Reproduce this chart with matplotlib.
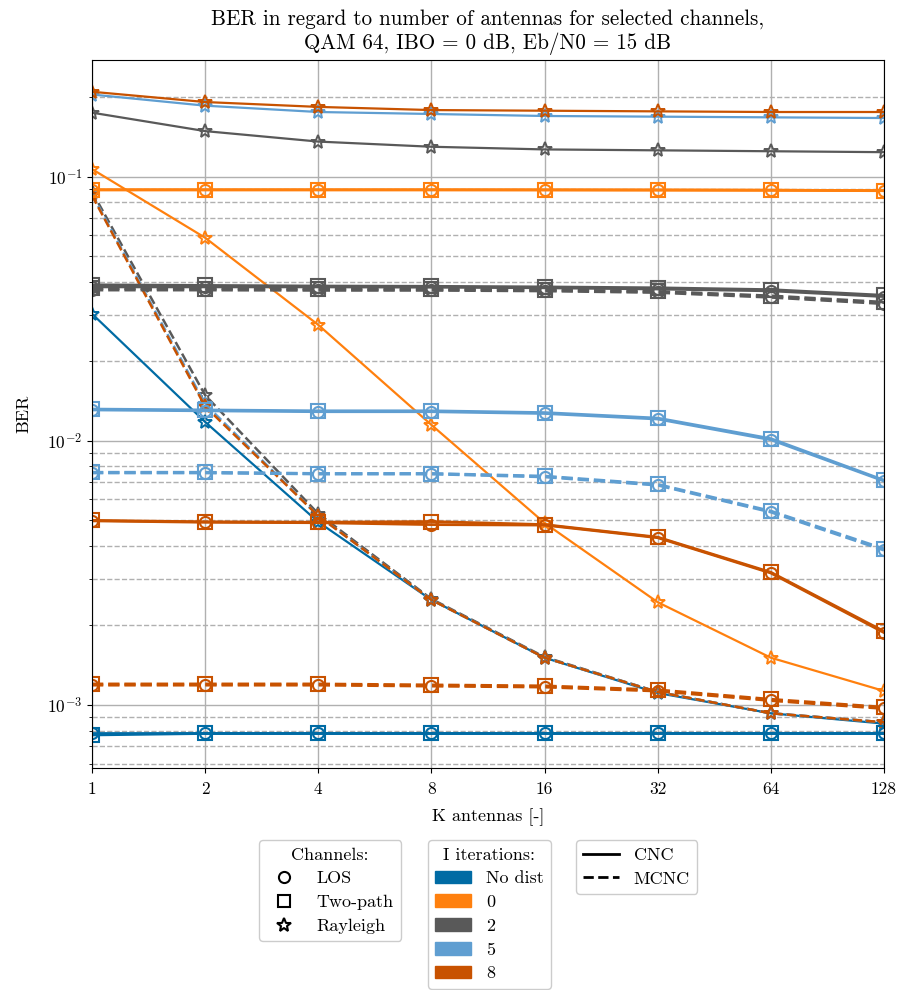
import numpy as np
import matplotlib.pyplot as plt
from matplotlib.lines import Line2D
from matplotlib.patches import Patch

plt.rcParams['font.family'] = ['cmr10', 'DejaVu Serif']
plt.rcParams['mathtext.fontset'] = 'cm'
plt.rcParams['axes.formatter.use_mathtext'] = True
plt.rcParams['axes.unicode_minus'] = False

# K antennas
K = [1, 2, 4, 8, 16, 32, 64, 128]

iter_labels = ['No dist', '0', '2', '5', '8']
colors = ['#006BA4', '#FF800E', '#595959', '#5F9ED1', '#C85200']

# BER, CNC (solid)
los_cnc = {
    'No dist': [0.00078, 0.00078, 0.00078, 0.00078, 0.00078, 0.00078, 0.00078, 0.00078],
    '0': [0.0893, 0.0893, 0.0893, 0.0893, 0.0892, 0.0891, 0.0890, 0.0886],
    '2': [0.0383, 0.0383, 0.0383, 0.0382, 0.0380, 0.0376, 0.0370, 0.0352],
    '5': [0.0131, 0.0130, 0.0129, 0.0129, 0.0127, 0.0121, 0.0101, 0.00705],
    '8': [0.00498, 0.00492, 0.00490, 0.00482, 0.00480, 0.00430, 0.00316, 0.00188],
}
twopath_cnc = {
    'No dist': [0.00077, 0.00078, 0.00078, 0.00078, 0.00078, 0.00078, 0.00078, 0.00078],
    '0': [0.0893, 0.0893, 0.0893, 0.0893, 0.0893, 0.0892, 0.0890, 0.0887],
    '2': [0.0390, 0.0388, 0.0386, 0.0385, 0.0383, 0.0380, 0.0374, 0.0356],
    '5': [0.0132, 0.0131, 0.0130, 0.0130, 0.0128, 0.0122, 0.0102, 0.00710],
    '8': [0.00500, 0.00494, 0.00492, 0.00495, 0.00482, 0.00432, 0.00318, 0.00190],
}
rayleigh_cnc = {
    'No dist': [0.0303, 0.0118, 0.00493, 0.00250, 0.00151, 0.00111, 0.00093, 0.00085],
    '0': [0.107, 0.0588, 0.0275, 0.0115, 0.00489, 0.00245, 0.00151, 0.00113],
    '2': [0.175, 0.149, 0.136, 0.130, 0.127, 0.126, 0.125, 0.124],
    '5': [0.205, 0.186, 0.176, 0.173, 0.170, 0.169, 0.168, 0.167],
    '8': [0.210, 0.192, 0.184, 0.179, 0.178, 0.177, 0.176, 0.176],
}

# BER, MCNC (dashed)
los_mcnc = {
    '2': [0.0373, 0.0373, 0.0372, 0.0372, 0.0370, 0.0365, 0.0350, 0.0331],
    '5': [0.00757, 0.00757, 0.00750, 0.00750, 0.00731, 0.00680, 0.00538, 0.00386],
    '8': [0.00119, 0.00119, 0.00119, 0.00118, 0.00117, 0.00113, 0.00104, 0.00097],
}
twopath_mcnc = {
    '2': [0.0378, 0.0377, 0.0376, 0.0375, 0.0373, 0.0368, 0.0354, 0.0335],
    '5': [0.00760, 0.00760, 0.00752, 0.00752, 0.00735, 0.00684, 0.00542, 0.00390],
    '8': [0.00120, 0.00120, 0.00120, 0.00119, 0.00118, 0.00114, 0.00105, 0.00098],
}
rayleigh_mcnc = {
    '2': [0.088, 0.0149, 0.0053, 0.00252, 0.00152, 0.00112, 0.00093, 0.00086],
    '5': [0.086, 0.0138, 0.0052, 0.00250, 0.00151, 0.00112, 0.00093, 0.00086],
    '8': [0.085, 0.0135, 0.0052, 0.00250, 0.00151, 0.00112, 0.00093, 0.00086],
}

fig = plt.figure(figsize=(9, 9.9), dpi=100)
ax = fig.add_axes([0.1022, 0.2242, 0.88, 0.7152])

for lab, col in zip(iter_labels, colors):
    ax.plot(K, rayleigh_cnc[lab], '-', color=col, lw=1.6, marker='*', ms=10,
            mfc='none', mew=1.4)
    if lab in rayleigh_mcnc:
        ax.plot(K, rayleigh_mcnc[lab], '--', color=col, lw=1.8, marker='*', ms=10,
                mfc='none', mew=1.4)

for lab, col in zip(iter_labels, colors):
    ax.plot(K, los_cnc[lab], '-', color=col, lw=2, marker='o', ms=8,
            mfc='none', mew=1.5)
    ax.plot(K, twopath_cnc[lab], '-', color=col, lw=2, marker='s', ms=9.5,
            mfc='none', mew=1.5)
    if lab in los_mcnc:
        ax.plot(K, los_mcnc[lab], '--', color=col, lw=2.2, marker='o', ms=8,
                mfc='none', mew=1.5)
        ax.plot(K, twopath_mcnc[lab], '--', color=col, lw=2.2, marker='s', ms=9.5,
                mfc='none', mew=1.5)

ax.set_xscale('log', base=2)
ax.set_yscale('log')
ax.set_xlim(1, 128)
ax.set_ylim(5.77e-4, 0.277)
ax.set_xticks(K)
ax.set_xticklabels([str(k) for k in K])
ax.xaxis.set_minor_locator(plt.NullLocator())
ax.tick_params(labelsize=12.5)
ax.tick_params(axis='x', pad=6.5)
ax.grid(True, which='major', color='#b0b0b0', lw=1)
ax.grid(True, which='minor', axis='y', color='#b0b0b0', lw=1, ls='--')
ax.set_axisbelow(True)
ax.set_xlabel('K antennas [-]', fontsize=13, labelpad=8)
ax.set_ylabel('BER', fontsize=13, labelpad=11)
ax.set_title('BER in regard to number of antennas for selected channels,\n'
             'QAM 64, IBO = 0 dB, Eb/N0 = 15 dB', fontsize=15.2, pad=8)

ch_handles = [Line2D([], [], ls='none', marker=m, color='black', mfc='none', ms=ms, mew=1.5)
              for m, ms in [('o', 8), ('s', 9), ('*', 10)]]
leg1 = fig.legend(ch_handles, ['LOS', 'Two-path', 'Rayleigh'], title='Channels:',
                  loc='upper left', bbox_to_anchor=(0.2878, 0.1515), borderaxespad=0,
                  fontsize=13, title_fontsize=13, framealpha=1, labelspacing=0.45)
it_handles = [Patch(facecolor=c, edgecolor=c) for c in colors]
leg2 = fig.legend(it_handles, iter_labels, title='I iterations:',
                  loc='upper left', bbox_to_anchor=(0.4756, 0.1515), borderaxespad=0,
                  fontsize=13, title_fontsize=13, framealpha=1, labelspacing=0.45)
ls_handles = [Line2D([], [], color='black', ls='-', lw=2),
              Line2D([], [], color='black', ls='--', lw=2)]
leg3 = fig.legend(ls_handles, ['CNC', 'MCNC'], loc='upper left',
                  bbox_to_anchor=(0.64, 0.1515), borderaxespad=0,
                  fontsize=13, framealpha=1, labelspacing=0.45)

fig.savefig('out.png', dpi=100)
